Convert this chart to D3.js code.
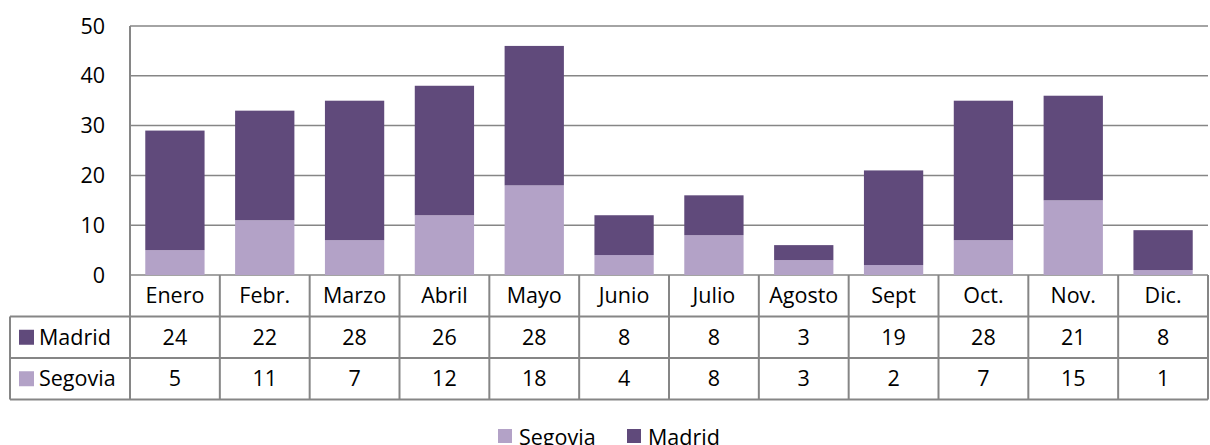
<!DOCTYPE html>
<html>
<head>
<meta charset="utf-8">
<script src="https://cdn.jsdelivr.net/npm/d3@7"></script>
<style>
  body { margin: 0; background: #fff; }
  svg text { font-family: "Open Sans", Lato, sans-serif; fill: #000; }
</style>
</head>
<body>
<div id="chart"></div>
<script>
// data
var months = ["Enero", "Febr.", "Marzo", "Abril", "Mayo", "Junio", "Julio", "Agosto", "Sept", "Oct.", "Nov.", "Dic."];
var madrid = [24, 22, 28, 26, 28, 8, 8, 3, 19, 28, 21, 8];
var segovia = [5, 11, 7, 12, 18, 4, 8, 3, 2, 7, 15, 1];
var yTicks = [0, 10, 20, 30, 40, 50];

var width = 1210, height = 445;
var plotLeft = 130, plotRight = 1208, plotTop = 26, base = 275;
var rowH = 41.5, tableLeft = 10;
var gridCol = "#868686";
var fs = "21.5px";

var colors = { Madrid: "#604a7b", Segovia: "#b3a2c7" };

var svg = d3.select("#chart").append("svg")
  .attr("width", width)
  .attr("height", height);

var x = d3.scaleBand().domain(months).range([plotLeft, plotRight]).paddingInner(0.34).paddingOuter(0.17);
var xCol = d3.scaleBand().domain(months).range([plotLeft, plotRight]);
var y = d3.scaleLinear().domain([0, 50]).range([base, plotTop]);

// gridlines
svg.append("g").selectAll("line")
  .data(yTicks)
  .join("line")
  .attr("x1", plotLeft).attr("x2", plotRight)
  .attr("y1", function(d) { return y(d); }).attr("y2", function(d) { return y(d); })
  .attr("stroke", gridCol).attr("stroke-width", 1.5);

// y labels
svg.append("g").selectAll("text")
  .data(yTicks)
  .join("text")
  .attr("x", 105)
  .attr("y", function(d) { return y(d); })
  .attr("dy", "0.35em")
  .attr("text-anchor", "end")
  .style("font-size", fs)
  .text(function(d) { return d; });

// stacked bars
var rows = months.map(function(m, i) { return { month: m, Segovia: segovia[i], Madrid: madrid[i] }; });
var stack = d3.stack().keys(["Segovia", "Madrid"])(rows);

svg.append("g").selectAll("g")
  .data(stack)
  .join("g")
  .attr("fill", function(d) { return colors[d.key]; })
  .selectAll("rect")
  .data(function(d) { return d; })
  .join("rect")
  .attr("x", function(d) { return x(d.data.month); })
  .attr("width", x.bandwidth())
  .attr("y", function(d) { return y(d[1]); })
  .attr("height", function(d) { return y(d[0]) - y(d[1]); });

// data table
var tbl = svg.append("g").attr("stroke", gridCol).attr("stroke-width", 2).attr("fill", "none");
var tableBottom = base + rowH * 3;
tbl.append("line").attr("x1", plotLeft).attr("x2", plotLeft).attr("y1", plotTop).attr("y2", tableBottom);
tbl.selectAll("line.v")
  .data(months)
  .join("line")
  .attr("class", "v")
  .attr("x1", function(d) { return xCol(d) + xCol.bandwidth(); })
  .attr("x2", function(d) { return xCol(d) + xCol.bandwidth(); })
  .attr("y1", base).attr("y2", tableBottom);
tbl.append("line").attr("x1", tableLeft).attr("x2", tableLeft).attr("y1", base + rowH).attr("y2", tableBottom);
[1, 2, 3].forEach(function(k) {
  tbl.append("line").attr("x1", tableLeft).attr("x2", plotRight).attr("y1", base + rowH * k).attr("y2", base + rowH * k);
});

// month labels
svg.append("g").selectAll("text")
  .data(months)
  .join("text")
  .attr("x", function(d) { return xCol(d) + xCol.bandwidth() / 2; })
  .attr("y", base + rowH / 2)
  .attr("dy", "0.35em")
  .attr("text-anchor", "middle")
  .style("font-size", fs)
  .text(function(d) { return d; });

var series = [{ name: "Madrid", values: madrid }, { name: "Segovia", values: segovia }];
series.forEach(function(s, r) {
  var cy = base + rowH * (r + 1) + rowH / 2;
  svg.append("rect").attr("x", 19).attr("y", cy - 7.5).attr("width", 15).attr("height", 15).attr("fill", colors[s.name]);
  svg.append("text").attr("x", 39).attr("y", cy).attr("dy", "0.35em").style("font-size", fs).text(s.name);
  svg.append("g").selectAll("text")
    .data(s.values)
    .join("text")
    .attr("x", function(d, i) { return xCol(months[i]) + xCol.bandwidth() / 2; })
    .attr("y", cy)
    .attr("dy", "0.35em")
    .attr("text-anchor", "middle")
    .style("font-size", fs)
    .text(function(d) { return d; });
});

// legend
var legendItems = [{ name: "Segovia", x: 498 }, { name: "Madrid", x: 627 }];
var lg = svg.append("g");
legendItems.forEach(function(l) {
  lg.append("rect").attr("x", l.x).attr("y", 429).attr("width", 14).attr("height", 14).attr("fill", colors[l.name]);
  lg.append("text").attr("x", l.x + 21).attr("y", 437).attr("dy", "0.35em").style("font-size", fs).text(l.name);
});
</script>
</body>
</html>
